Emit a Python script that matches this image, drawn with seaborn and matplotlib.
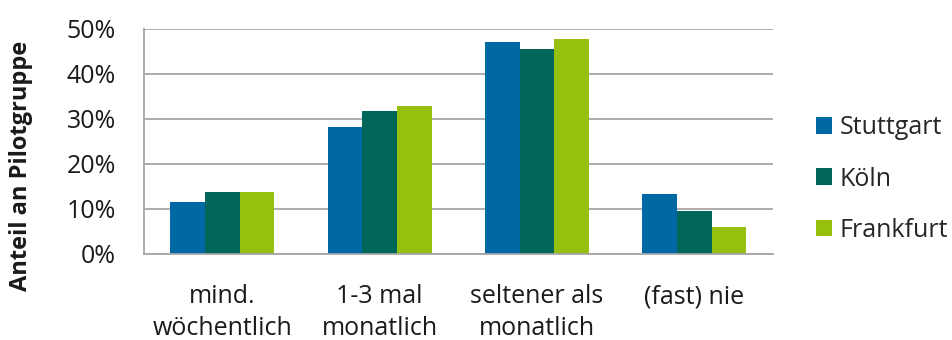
import numpy as np
import pandas as pd
import matplotlib
matplotlib.use('Agg')
import matplotlib.pyplot as plt
import seaborn as sb
from matplotlib.ticker import PercentFormatter, FixedLocator

categories = ['mind.\nwöchentlich', '1-3 mal\nmonatlich', 'seltener als\nmonatlich', '(fast) nie']
cities = ['Stuttgart', 'Köln', 'Frankfurt']
stuttgart = [11.5, 28.2, 47.1, 13.2]
koeln = [13.7, 31.7, 45.4, 9.5]
frankfurt = [13.7, 32.8, 47.6, 6.0]
colors = ['#0068A5', '#00665A', '#97BF0D']

df = pd.DataFrame({
    'kategorie': categories * 3,
    'stadt': np.repeat(cities, len(categories)),
    'anteil': stuttgart + koeln + frankfurt,
})

sb.set_style('white')
plt.rcParams['font.family'] = ['Open Sans', 'DejaVu Sans']

fig = plt.figure(figsize=(9.52, 3.4), dpi=100)
ax = fig.add_axes([0.151, 0.254, 0.661, 0.662])

sb.barplot(data=df, x='kategorie', y='anteil', hue='stadt', palette=colors,
           width=0.66, gap=0, ax=ax, edgecolor='none', saturation=1)

ax.set_ylim(0, 50)
ax.set_xlim(-0.5, 3.5)
ax.set_yticks([0, 10, 20, 30, 40, 50])
ax.yaxis.set_major_formatter(PercentFormatter(decimals=0))
ax.yaxis.grid(True, color='#A6A6A6', linewidth=1.3)
ax.set_axisbelow(True)

for s in ['top', 'right']:
    ax.spines[s].set_visible(False)
for s in ['left', 'bottom']:
    ax.spines[s].set_color('#A6A6A6')
    ax.spines[s].set_linewidth(1.3)

ax.tick_params(axis='y', length=8, color='#A6A6A6', width=1.3, labelsize=18, pad=12,
               labelcolor='#1a1a1a')
ax.tick_params(axis='x', which='major', length=0, labelsize=18, pad=22, labelcolor='#1a1a1a')
for lbl in ax.get_xticklabels():
    lbl.set_linespacing(1.38)
ax.xaxis.set_minor_locator(FixedLocator([-0.5, 0.5, 1.5, 2.5, 3.5]))
ax.tick_params(axis='x', which='minor', length=8, color='#A6A6A6', width=1.3)

ax.set_xlabel('')
ax.set_ylabel('Anteil an Pilotgruppe', fontsize=17, fontweight='bold', color='#1a1a1a')
ax.yaxis.set_label_coords(-0.176, 0.389)

ax.legend(loc='center left', bbox_to_anchor=(816 / 952, 1 - 179 / 340),
          bbox_transform=fig.transFigure, frameon=False, borderpad=0, borderaxespad=0,
          fontsize=18, handlelength=0.64, handleheight=0.64, handletextpad=0.3,
          labelspacing=1.05)

plt.savefig('out.png', dpi=100)
